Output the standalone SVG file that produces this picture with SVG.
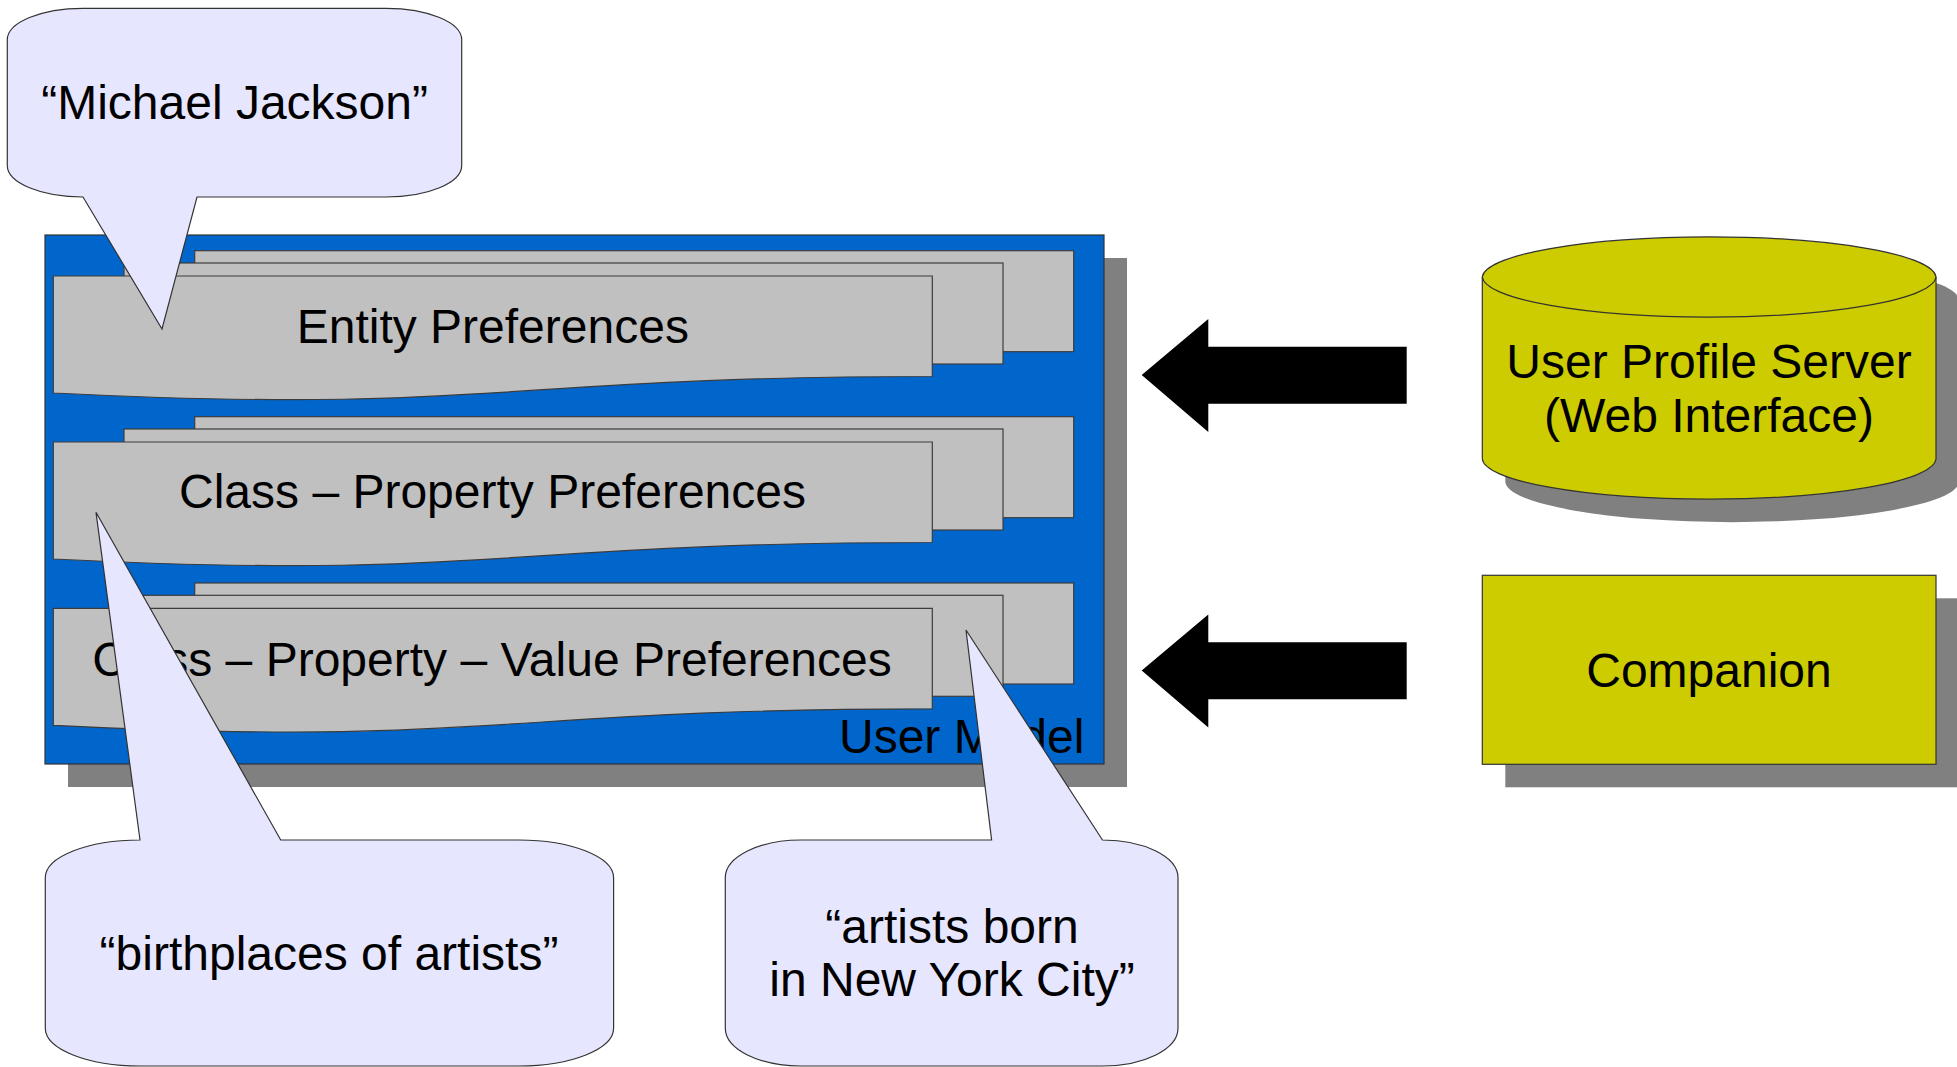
<svg xmlns="http://www.w3.org/2000/svg" width="1957" height="1067" viewBox="0 0 1957 1067">
  <defs>
    <style>
      text { font-family: "Liberation Sans", Arial, sans-serif; font-size: 48px; fill: #000000; }
      .mid { text-anchor: middle; }
      .shadow { fill: #808080; stroke: none; }
      .card { fill: #c0c0c0; stroke: #3c3c3c; stroke-width: 1.2; }
      .callout { fill: #e6e6ff; stroke: #333333; stroke-width: 1.2; }
      .source { fill: #cccc00; stroke: #333333; stroke-width: 1.2; }
      .flow { fill: #000000; stroke: none; }
    </style>
    <!-- one stack of three preference sheets; the front sheet has a wavy lower edge -->
    <g id="stack-sheets">
      <rect class="card" x="194.7" y="250.7" width="879" height="101"/>
      <rect class="card" x="124" y="263" width="879" height="101"/>
      <path class="card" d="M53.3,276 H932.3 V376.5 C492.8,376.5 492.8,414.8 53.3,393 Z"/>
    </g>
    <path id="block-arrow" d="M1141.7,375 L1208.3,319 V346.7 H1406.7 V403.7 H1208.3 V432 Z"/>
  </defs>

  <!-- User Model container -->
  <g id="user-model">
    <rect class="shadow" x="68" y="258" width="1059" height="529"/>
    <rect x="45" y="235" width="1059" height="529" fill="#0066cc" stroke="#333333" stroke-width="1.2"/>
    <text x="839" y="752.7">User Model</text>
  </g>

  <g id="entity-preferences">
    <use href="#stack-sheets"/>
    <text class="mid" x="492.8" y="343.3">Entity Preferences</text>
  </g>

  <g id="class-property-preferences">
    <use href="#stack-sheets" transform="translate(0,166)"/>
    <text class="mid" x="492.5" y="508.3">Class – Property Preferences</text>
  </g>

  <g id="class-property-value-preferences">
    <use href="#stack-sheets" transform="translate(0,332.3)"/>
    <text class="mid" x="492" y="675.7">Class – Property – Value Preferences</text>
  </g>

  <!-- data sources -->
  <g id="user-profile-server">
    <path class="shadow" d="M1505.3,300 A226.9,41 0 0 1 1959,300 V482 A226.9,41 0 0 1 1505.3,482 Z"/>
    <path class="source" d="M1482.3,277 A226.9,41 0 0 1 1936,277 V459 A226.9,41 0 0 1 1482.3,459 Z"/>
    <path d="M1482.3,277 A226.9,41 0 0 0 1936,277" fill="none" stroke="#333333" stroke-width="1.2"/>
    <text class="mid" x="1709" y="378.3">User Profile Server</text>
    <text class="mid" x="1709" y="431.7">(Web Interface)</text>
  </g>

  <g id="companion">
    <rect class="shadow" x="1505.3" y="598.3" width="453.7" height="189"/>
    <rect class="source" x="1482.3" y="575.3" width="453.7" height="189"/>
    <text class="mid" x="1709" y="687.3">Companion</text>
  </g>

  <!-- flows from the sources into the user model -->
  <g id="connectors">
    <use href="#block-arrow" class="flow"/>
    <use href="#block-arrow" class="flow" transform="translate(0,295.6)"/>
  </g>

  <!-- example callouts -->
  <g id="callout-entity">
    <path class="callout" d="M83,8.3 H386 A75.7,31.5 0 0 1 461.7,39.8 V165.5 A75.7,31.5 0 0 1 386,197 H197 L162,329 L83,197 A75.7,31.5 0 0 1 7.3,165.5 V39.8 A75.7,31.5 0 0 1 83,8.3 Z"/>
    <text class="mid" x="234.6" y="119.3">“Michael Jackson”</text>
  </g>

  <g id="callout-class-property">
    <path class="callout" d="M140,840 L96,512.3 L280.7,840 H518.9 A94.7,37.7 0 0 1 613.6,877.7 V1028.3 A94.7,37.7 0 0 1 518.9,1066 H140 A94.7,37.7 0 0 1 45.3,1028.3 V877.7 A94.7,37.7 0 0 1 140,840 Z"/>
    <text class="mid" x="329" y="970">“birthplaces of artists”</text>
  </g>

  <g id="callout-class-property-value">
    <path class="callout" d="M800.8,840 H991.6 L966,630 L1102.5,840 A75.5,37.7 0 0 1 1178,877.7 V1028.3 A75.5,37.7 0 0 1 1102.5,1066 H800.8 A75.5,37.7 0 0 1 725.3,1028.3 V877.7 A75.5,37.7 0 0 1 800.8,840 Z"/>
    <text class="mid" x="952" y="943.3">“artists born</text>
    <text class="mid" x="952" y="996">in New York City”</text>
  </g>
</svg>
